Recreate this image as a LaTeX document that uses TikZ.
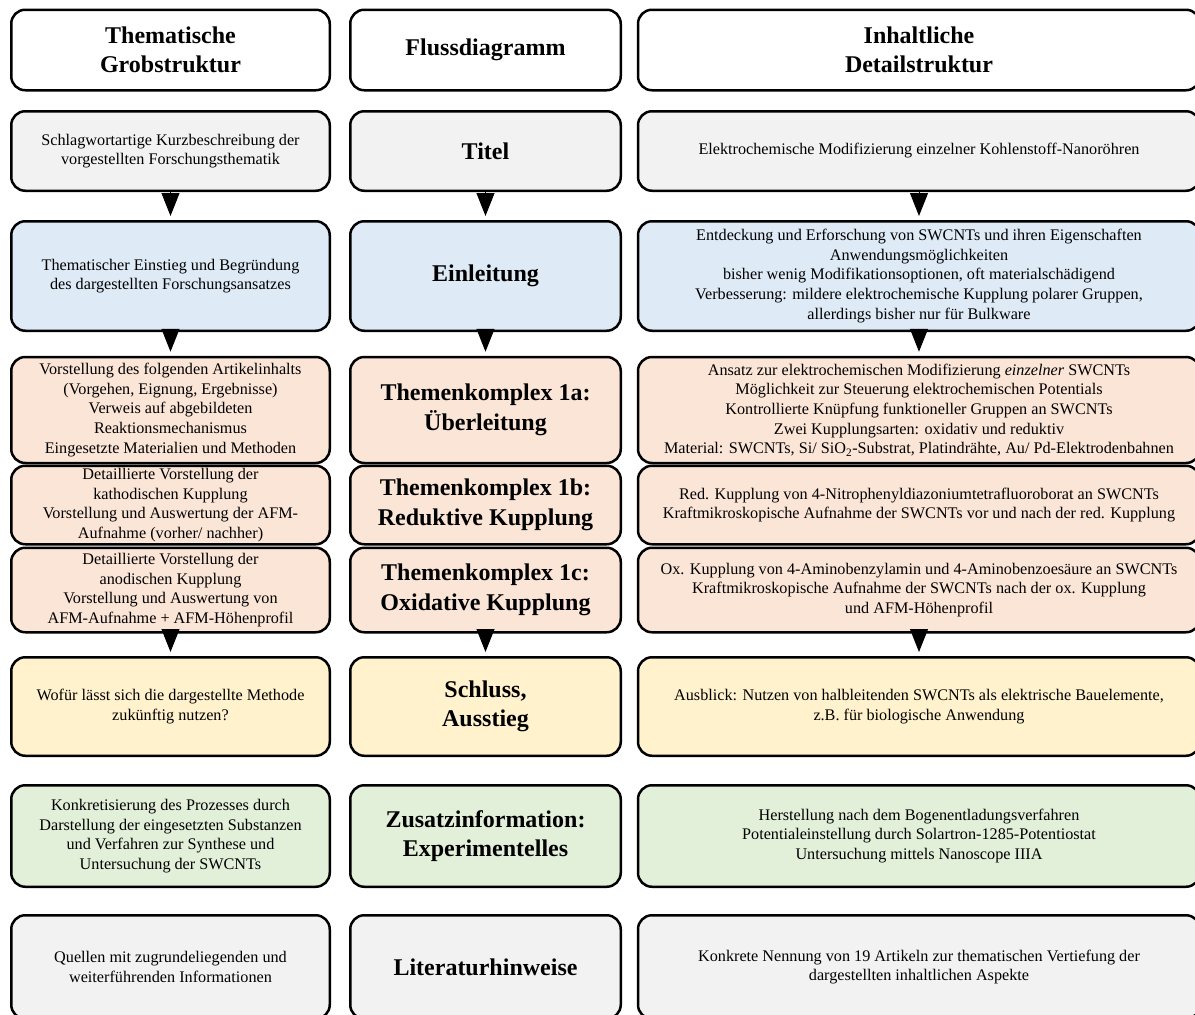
\documentclass[tikz,border=0pt]{standalone}
\usepackage{fontspec}
\setmainfont{Liberation Serif}
\usepackage{tikz}
\usetikzlibrary{positioning}
\usetikzlibrary{arrows.meta}
\usepackage{xcolor}
\definecolor{grau}{HTML}{F2F2F2}
\definecolor{blau}{HTML}{DEEAF6}
\definecolor{rosa}{HTML}{FBE5D6}
\definecolor{gelb}{HTML}{FFF2CC}
\definecolor{gruen}{HTML}{E2EFD9}

\begin{document}
\begin{tikzpicture}[x=1pt, y=-1pt,
  every node/.style = {shape=rectangle, rounded corners=14pt,
    draw, line width=2.5pt, align=center, inner sep=0pt,
    font=\fontsize{16.2}{19.7}\selectfont},
  kopf/.style = {font=\fontsize{24}{29.5}\selectfont\bfseries},
  spalteG/.style = {minimum width=318.5pt},
  spalteF/.style = {minimum width=270.5pt, kopf},
  spalteD/.style = {minimum width=562pt},
  pfeil/.style = {draw, line width=1pt, shorten >=4pt,
    -{Triangle[length=23pt,width=18pt]}}
  ]
  \useasboundingbox (0,0) rectangle (1195,1015);
  % Kopfzeile
  \node[spalteG, kopf, minimum height=80.5pt, fill=white] (g-kopf) at (170.5,50) {Thematische\\Grobstruktur};
  \node[spalteF, minimum height=80.5pt, fill=white] (f-kopf) at (485.5,50) {Flussdiagramm};
  \node[spalteD, kopf, minimum height=80.5pt, fill=white] (d-kopf) at (919,50) {Inhaltliche\\Detailstruktur};
  % Titel
  \node[spalteG, minimum height=79.5pt, fill=grau] (g-titel) at (170.5,151) {Schlagwortartige Kurzbeschreibung der\\vorgestellten Forschungsthematik};
  \node[spalteF, minimum height=79.5pt, fill=grau] (f-titel) at (485.5,151) {Titel};
  \node[spalteD, minimum height=79.5pt, fill=grau] (d-titel) at (919,151) {Elektrochemische Modifizierung einzelner Kohlenstoff-Nanoröhren};
  % Einleitung
  \node[spalteG, minimum height=109.5pt, fill=blau] (g-einl) at (170.5,276) {Thematischer Einstieg und Begründung\\des dargestellten Forschungsansatzes};
  \node[spalteF, minimum height=109.5pt, fill=blau] (f-einl) at (485.5,276) {Einleitung};
  \node[spalteD, minimum height=109.5pt, fill=blau] (d-einl) at (919,276) {Entdeckung und Erforschung von SWCNTs und ihren Eigenschaften\\Anwendungsmöglichkeiten\\bisher wenig Modifikationsoptionen, oft materialschädigend\\Verbesserung: mildere elektrochemische Kupplung polarer Gruppen,\\allerdings bisher nur für Bulkware};
  % Themenkomplex 1a
  \node[spalteG, minimum height=106pt, fill=rosa] (g-eins-a) at (170.5,410) {Vorstellung des folgenden Artikelinhalts\\(Vorgehen, Eignung, Ergebnisse)\\Verweis auf abgebildeten\\Reaktionsmechanismus\\Eingesetzte Materialien und Methoden};
  \node[spalteF, minimum height=106pt, fill=rosa] (f-eins-a) at (485.5,410) {Themenkomplex 1a:\\Überleitung};
  \node[spalteD, minimum height=106pt, fill=rosa] (d-eins-a) at (919,410) {Ansatz zur elektrochemischen Modifizierung \textit{einzelner} SWCNTs\\Möglichkeit zur Steuerung elektrochemischen Potentials\\Kontrollierte Knüpfung funktioneller Gruppen an SWCNTs\\Zwei Kupplungsarten: oxidativ und reduktiv\\Material: SWCNTs, Si/ SiO\textsubscript{2}-Substrat, Platindrähte, Au/ Pd-Elektrodenbahnen};
  % Themenkomplex 1b
  \node[spalteG, minimum height=78.5pt, fill=rosa] (g-eins-b) at (170.5,505) {Detaillierte Vorstellung der\\kathodischen Kupplung\\Vorstellung und Auswertung der AFM-\\Aufnahme (vorher/ nachher)};
  \node[spalteF, minimum height=78.5pt, fill=rosa] (f-eins-b) at (485.5,505) {Themenkomplex 1b:\\Reduktive Kupplung};
  \node[spalteD, minimum height=78.5pt, fill=rosa] (d-eins-b) at (919,505) {Red. Kupplung von 4-Nitrophenyldiazoniumtetrafluoroborat an SWCNTs\\Kraftmikroskopische Aufnahme der SWCNTs vor und nach der red. Kupplung};
  % Themenkomplex 1c
  \node[spalteG, minimum height=84.5pt, fill=rosa] (g-eins-c) at (170.5,590) {Detaillierte Vorstellung der\\anodischen Kupplung\\Vorstellung und Auswertung von\\AFM-Aufnahme + AFM-Höhenprofil};
  \node[spalteF, minimum height=84.5pt, fill=rosa] (f-eins-c) at (485.5,590) {Themenkomplex 1c:\\Oxidative Kupplung};
  \node[spalteD, minimum height=84.5pt, fill=rosa] (d-eins-c) at (919,590) {Ox. Kupplung von 4-Aminobenzylamin und 4-Aminobenzoesäure an SWCNTs\\Kraftmikroskopische Aufnahme der SWCNTs nach der ox. Kupplung\\und AFM-Höhenprofil};
  % Schluss
  \node[spalteG, minimum height=98.5pt, fill=gelb] (g-schluss) at (170.5,706.5) {Wofür lässt sich die dargestellte Methode\\zukünftig nutzen?};
  \node[spalteF, minimum height=98.5pt, fill=gelb] (f-schluss) at (485.5,706.5) {Schluss,\\Ausstieg};
  \node[spalteD, minimum height=98.5pt, fill=gelb] (d-schluss) at (919,706.5) {Ausblick: Nutzen von halbleitenden SWCNTs als elektrische Bauelemente,\\z.B. für biologische Anwendung};
  % Zusatzinformation
  \node[spalteG, minimum height=101.5pt, fill=gruen] (g-zusatz) at (170.5,836) {Konkretisierung des Prozesses durch\\Darstellung der eingesetzten Substanzen\\und Verfahren zur Synthese und\\Untersuchung der SWCNTs};
  \node[spalteF, minimum height=101.5pt, fill=gruen] (f-zusatz) at (485.5,836) {Zusatzinformation:\\Experimentelles};
  \node[spalteD, minimum height=101.5pt, fill=gruen] (d-zusatz) at (919,836) {Herstellung nach dem Bogenentladungsverfahren\\Potentialeinstellung durch Solartron-1285-Potentiostat\\Untersuchung mittels Nanoscope IIIA};
  % Literatur
  \node[spalteG, minimum height=103.5pt, fill=grau] (g-lit) at (170.5,967) {Quellen mit zugrundeliegenden und\\weiterführenden Informationen};
  \node[spalteF, minimum height=103.5pt, fill=grau] (f-lit) at (485.5,967) {Literaturhinweise};
  \node[spalteD, minimum height=103.5pt, fill=grau] (d-lit) at (919,967) {Konkrete Nennung von 19 Artikeln zur thematischen Vertiefung der\\dargestellten inhaltlichen Aspekte};
  % Pfeile
  \draw[pfeil] (g-titel) -- (g-einl);
  \draw[pfeil] (f-titel) -- (f-einl);
  \draw[pfeil] (d-titel) -- (d-einl);
  \draw[pfeil] (g-einl) -- (g-eins-a);
  \draw[pfeil] (f-einl) -- (f-eins-a);
  \draw[pfeil] (d-einl) -- (d-eins-a);
  \draw[pfeil] (g-eins-c) -- (g-schluss);
  \draw[pfeil] (f-eins-c) -- (f-schluss);
  \draw[pfeil] (d-eins-c) -- (d-schluss);
\end{tikzpicture}
\end{document}
